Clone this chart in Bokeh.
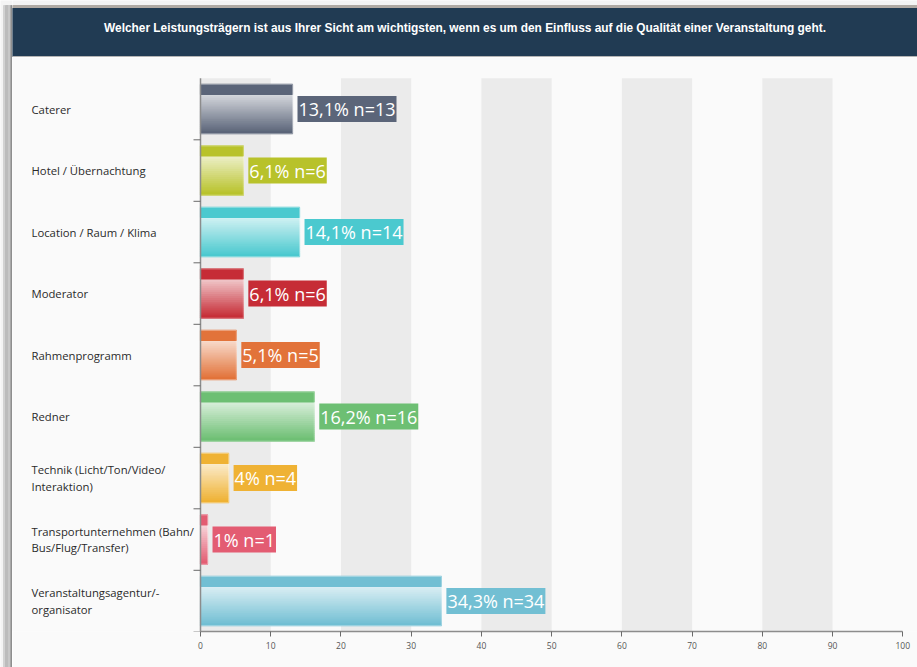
import numpy as np
from bokeh.plotting import figure
from bokeh.layouts import row, column
from bokeh.models import Range1d, FixedTicker, ColumnDataSource
from bokeh.core.properties import value
from bokeh.embed import file_html
from bokeh.resources import INLINE

# ---------------- data ----------------
title_text = ("Welcher Leistungsträgern ist aus Ihrer Sicht am wichtigsten, wenn es um den "
              "Einfluss auf die Qualität einer Veranstaltung geht.")
categories = [
    "Caterer",
    "Hotel / Übernachtung",
    "Location / Raum / Klima",
    "Moderator",
    "Rahmenprogramm",
    "Redner",
    "Technik (Licht/Ton/Video/\nInteraktion)",
    "Transportunternehmen (Bahn/\nBus/Flug/Transfer)",
    "Veranstaltungsagentur/-\norganisator",
]
percent = [13.1, 6.1, 14.1, 6.1, 5.1, 16.2, 4.0, 1.0, 34.3]
counts = [13, 6, 14, 6, 5, 16, 4, 1, 34]
bar_colors = ["#5b6579", "#b8c22a", "#4bc9cf", "#c62c36", "#e2733a",
              "#6dbf73", "#efb234", "#e35c72", "#72bfd3"]
x_ticks = list(range(0, 101, 10))

# ---------------- layout constants ----------------
FONT = "Open Sans"
PX_PER_UNIT = 7.023      # pixels per percent
ZERO_PX = 188            # x pixel of 0 within main frame
BAND_PX = 61.5           # height of one category band
TOP_GAP_PX = 20.8
MAIN_W, MAIN_H = 905, 610
AXIS_H = 36
FRAME_H = MAIN_H - AXIS_H

x0 = -ZERO_PX / PX_PER_UNIT
x1 = (MAIN_W - ZERO_PX) / PX_PER_UNIT
n = len(categories)
y_top = -TOP_GAP_PX / BAND_PX
y_bottom = y_top + FRAME_H / BAND_PX


def mix(c, t):
    c = c.lstrip("#")
    r, g, b = (int(c[k:k + 2], 16) for k in (0, 2, 4))
    r = round(r + (255 - r) * t)
    g = round(g + (255 - g) * t)
    b = round(b + (255 - b) * t)
    return "#%02x%02x%02x" % (r, g, b)


def fmt(v, k):
    s = ("%d" % v) if float(v).is_integer() else ("%.1f" % v).replace(".", ",")
    return "%s%% n=%d" % (s, k)


centers = [i + 0.5 for i in range(n)]

# ---------------- strip (left window border) ----------------
strip = figure(width=12, height=667, x_range=Range1d(0, 12), y_range=Range1d(667, 0),
               x_axis_type=None, y_axis_type=None, toolbar_location=None,
               output_backend="svg", min_border=0, outline_line_color=None,
               background_fill_color="#f4f4f4", border_fill_color="#f4f4f4")
strip.grid.visible = False
sx = [(3, 5, "#d2d2d2"), (5, 8, "#bcbcbc"), (8, 10, "#c8c8c8"), (10, 11, "#a8a8a8"), (11, 12, "#8e8e8e")]
strip.quad(left=[a for a, b, c in sx], right=[b for a, b, c in sx],
           top=[5] * len(sx), bottom=[667] * len(sx), color=[c for a, b, c in sx])

# ---------------- header ----------------
header = figure(width=MAIN_W, height=57, x_range=Range1d(0, MAIN_W), y_range=Range1d(57, 0),
                x_axis_type=None, y_axis_type=None, toolbar_location=None,
                output_backend="svg", min_border=0, outline_line_color=None,
                background_fill_color="#f4f4f4", border_fill_color="#f4f4f4")
header.grid.visible = False
header.quad(left=[0, 0, 0], right=[MAIN_W] * 3, top=[5, 8, 56], bottom=[8, 56, 57],
            color=["#b0aaa4", "#213b53", "#b4b4b4"])
header.text(x=[MAIN_W / 2], y=[27], text=[title_text], text_color="white",
            text_font=value("Liberation Sans"), text_font_style="bold",
            text_font_size="11.9px", text_align="center", text_baseline="middle")

# ---------------- main chart ----------------
p = figure(width=MAIN_W, height=MAIN_H, x_range=Range1d(x0, x1),
           y_range=Range1d(y_bottom, y_top), y_axis_type=None,
           toolbar_location=None, output_backend="svg",
           min_border_left=0, min_border_right=0, min_border_top=0,
           min_border_bottom=AXIS_H, outline_line_color=None,
           background_fill_color="#fafafa", border_fill_color="#fafafa")
p.grid.visible = False

# alternating background bands
band_left = x_ticks[0:-1:2]
band_right = x_ticks[1::2]
p.quad(left=band_left, right=band_right, top=[0] * len(band_left),
       bottom=[n] * len(band_left), color="#ebebeb", line_color=None)

# bars: solid top strip + vertical gradient body
HALF = 0.40
STRIP = 0.163
N_SL = 20
ys, hs, rs, cs = [], [], [], []
for c, v, col in zip(centers, percent, bar_colors):
    top = c - HALF
    g_top = top + STRIP
    g_h = 2 * HALF - STRIP
    sh = g_h / N_SL
    for j in range(N_SL):
        t = 0.74 * (1 - j / (N_SL - 1))
        ys.append(g_top + (j + 0.5) * sh); hs.append(sh); rs.append(v); cs.append(mix(col, t))
    ys.append(top + STRIP / 2); hs.append(STRIP); rs.append(v); cs.append(col)
p.hbar(y=ys, height=hs, left=0, right=rs, fill_color=cs, line_color=cs, line_width=1.2)
p.hbar(y=centers, height=2 * HALF, left=0, right=percent, fill_color=None,
       line_color="white", line_alpha=0.35, line_width=1)

# value labels
lab_src = ColumnDataSource(dict(x=percent, y=centers,
                                text=[fmt(v, k) for v, k in zip(percent, counts)],
                                color=bar_colors))
p.text(x="x", y="y", text="text", source=lab_src, x_offset=5, text_color="white",
       text_font=value(FONT), text_font_size="18px", text_align="left",
       text_baseline="middle", background_fill_color="color", padding=1)

# category labels (left aligned)
p.text(x=[x0] * n, y=centers, text=categories, x_offset=19, text_color="#2a2a2a",
       text_font=value(FONT), text_font_size="11.3px", text_align="left",
       text_baseline="middle", text_line_height=1.12)

# y axis line and ticks at band boundaries
tick_len = 7 / PX_PER_UNIT
p.segment(x0=[0], y0=[0], x1=[0], y1=[n], line_color="#8c8c8c", line_width=1.5)
bounds_y = list(range(1, n + 1))
p.segment(x0=[-tick_len] * len(bounds_y), y0=bounds_y, x1=[0] * len(bounds_y),
          y1=bounds_y, line_color="#6a6a6a", line_width=1)

# x axis
ax = p.xaxis[0]
ax.ticker = FixedTicker(ticks=x_ticks)
ax.bounds = (0, 100)
ax.axis_line_color = "#8c8c8c"
ax.axis_line_width = 1.5
ax.major_tick_line_color = "#6a6a6a"
ax.major_tick_out = 5
ax.major_tick_in = 0
ax.minor_tick_line_color = None
ax.major_label_text_font = FONT
ax.major_label_text_font_size = "8.5px"
ax.major_label_text_color = "#555555"
ax.major_label_standoff = 5

layout = row(strip, column(header, p, spacing=0), spacing=0)
open("out.html", "w").write(file_html(layout, INLINE))
